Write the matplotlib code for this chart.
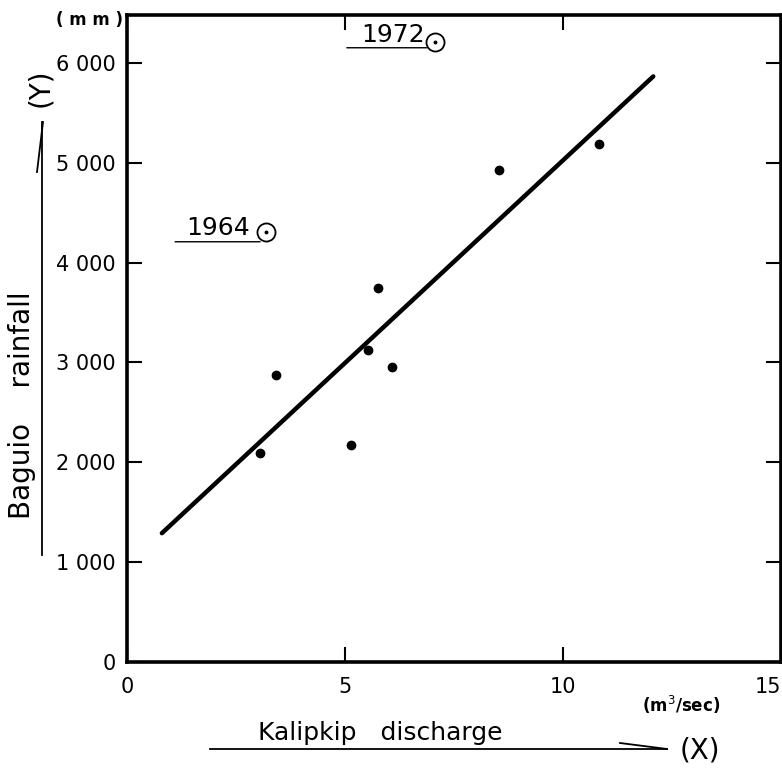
import matplotlib
matplotlib.use("Agg")
import matplotlib.pyplot as plt
from matplotlib.lines import Line2D
from matplotlib.transforms import offset_copy

# Kalipkip discharge (m3/sec) vs Baguio rainfall (mm), yearly points
discharge = [3.05, 3.41, 5.14, 5.52, 6.08, 5.76, 8.53, 10.83]
rainfall = [2097, 2873, 2171, 3126, 2959, 3744, 4930, 5190]

# outlier years, marked with a circled dot
outlier_years = ["1964", "1972"]
outlier_x = [3.19, 7.06]
outlier_y = [4309, 6212]

# hand-drawn regression line (end points)
fit_x = [0.80, 12.07]
fit_y = [1290, 5865]

x_ticks = [0, 5, 10, 15]
x_ticklabels = ["0", "5", "10", "15"]
y_ticks = [0, 1000, 2000, 3000, 4000, 5000, 6000]
y_ticklabels = ["0", "1 000", "2 000", "3 000", "4 000", "5 000", "6 000"]

W, H = 782, 768
plt.rcParams["font.family"] = ["DejaVu Sans"]

fig = plt.figure(figsize=(W / 100, H / 100), dpi=100)
ax = fig.add_axes([127 / W, 106 / H, 654 / W, 647 / H])
ax.set_xlim(0, 15)
ax.set_ylim(0, 6480)

ax.plot(fit_x, fit_y, color="black", lw=3.2, solid_capstyle="round")
ax.plot(discharge, rainfall, "o", color="black", ms=6)
ax.plot(outlier_x, outlier_y, "o", mfc="none", mec="black", mew=1.3, ms=13)
ax.plot(outlier_x, outlier_y, "o", color="black", ms=1.8)

# year labels with underline, placed relative to their circle (pixel offsets)
label_offsets = {"1964": (-16, -3, -91, -6, -10), "1972": (-10, 0, -88, -8, -6)}
for yr, x, y in zip(outlier_years, outlier_x, outlier_y):
    tdx, tdy, u0, u1, udy = label_offsets[yr]
    ax.text(x, y, yr, fontsize=18, ha="right", va="baseline",
            transform=offset_copy(ax.transData, fig=fig, x=tdx, y=tdy, units="dots"))
    ax.annotate("", xy=(x, y), xytext=(x, y),
                xycoords=offset_copy(ax.transData, fig=fig, x=u1, y=udy, units="dots"),
                textcoords=offset_copy(ax.transData, fig=fig, x=u0, y=udy, units="dots"),
                arrowprops=dict(arrowstyle="-", lw=1.0, color="black",
                                shrinkA=0, shrinkB=0))

ax.set_xticks(x_ticks)
ax.set_xticklabels(x_ticklabels)
ax.set_yticks(y_ticks)
ax.set_yticklabels(y_ticklabels)
ax.tick_params(axis="both", direction="in", length=11, width=1.5, labelsize=15)
ax.tick_params(axis="x", top=True, labeltop=False, pad=11)
ax.tick_params(axis="y", right=True, labelright=False, pad=8)
# last x label sits at the figure edge: right-align it so it stays visible
ax.get_xticklabels()[-1].set_ha("right")
for s in ax.spines.values():
    s.set_linewidth(2.6)


def fx(x):
    return x / W


def fy(y):
    return 1 - y / H


# axis titles and hand-drawn arrows, figure pixel positions
fig.text(fx(89), fy(20), "( m m )", fontsize=12, ha="center", va="center",
         fontweight="bold")
fig.text(fx(22), fy(405), "Baguio    rainfall", fontsize=20, rotation=90,
         ha="center", va="center")
fig.text(fx(40), fy(88), "(Y)", fontsize=20, rotation=90, ha="center", va="center")
fig.text(fx(380), fy(733), "Kalipkip   discharge", fontsize=18, ha="center",
         va="center")
fig.text(fx(700), fy(751), "(X)", fontsize=20, ha="center", va="center")
fig.text(fx(681), fy(705), "(m$^3$/sec)", fontsize=12, ha="center", va="center",
         fontweight="bold")

fig.add_artist(Line2D([fx(42), fx(42)], [fy(555), fy(122)], color="black", lw=1.3))
fig.add_artist(Line2D([fx(37), fx(43)], [fy(172), fy(122)], color="black", lw=1.3))
fig.add_artist(Line2D([fx(210), fx(667)], [fy(749), fy(749)], color="black", lw=1.3))
fig.add_artist(Line2D([fx(620), fx(667)], [fy(743), fy(749)], color="black", lw=1.3))

fig.savefig("out.png", dpi=100)
